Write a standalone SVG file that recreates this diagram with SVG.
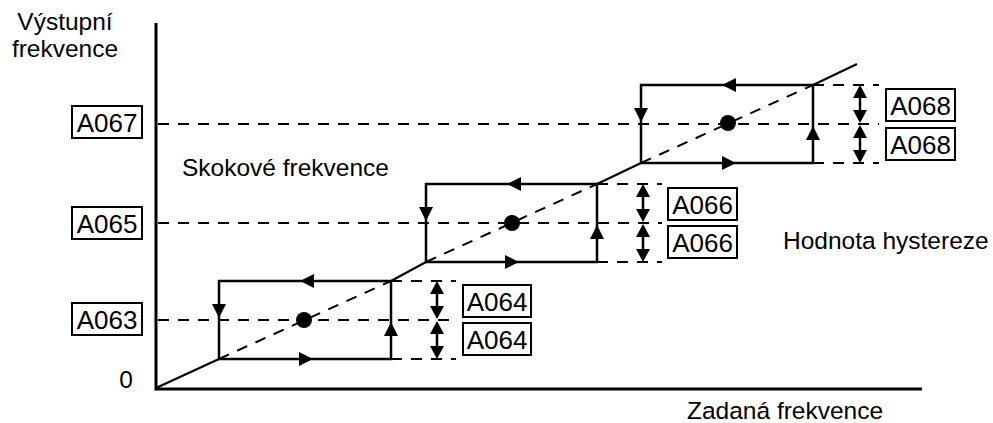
<svg xmlns="http://www.w3.org/2000/svg" xmlns:xlink="http://www.w3.org/1999/xlink" width="993" height="423" viewBox="0 0 993 423">
<style>
text{font-family:"Liberation Sans",Arial,sans-serif;font-size:24.5px;fill:#000}
.lbl{font-size:26px;text-anchor:middle}
.box{fill:#fff;stroke:#000;stroke-width:2}
.axis{stroke:#000;stroke-width:3;fill:none}
.loop{fill:none;stroke:#000;stroke-width:2.5}
.solid{stroke:#000;stroke-width:2.2;fill:none}
.dash{stroke:#000;stroke-width:2;fill:none;stroke-dasharray:11 9}
.dim{stroke:#000;stroke-width:2.5}
</style>
<defs>
<path id="ah" d="M0,0 L-14,-7 L-14,7 Z" fill="#000"/>
<path id="ah2" d="M0,0 L-13,-7 L-13,7 Z" fill="#000"/>
</defs>
<g id="axes">
<path class="axis" d="M156,23 V389 H922"/>
<text x="65" y="30" text-anchor="middle">Výstupní</text>
<text x="65" y="57" text-anchor="middle">frekvence</text>
<text x="133" y="388" text-anchor="end" font-size="25">0</text>
<text x="687" y="419">Zadaná frekvence</text>
</g>
<g id="texts">
<text x="182" y="176">Skokové frekvence</text>
<text x="783" y="249">Hodnota hystereze</text>
</g>
<g id="connectors">
<path class="solid" d="M156,388 L219,359 M391,281 L426,262 M597,184 L641,163 M813,85 L857,64"/>
<path class="dash" d="M219,359 L391,281 M426,262 L597,184 M641,163 L813,85"/>
<path class="dash" d="M158,320 H456 M391,281 H456 M391,359 H456"/>
<path class="dash" d="M158,223 H662 M597,184 H662 M597,262 H662"/>
<path class="dash" d="M158,124 H879 M813,85 H879 M813,163 H879"/>
</g>
<g id="loop1">
<rect class="loop" x="219" y="281" width="172" height="78"/>
<use xlink:href="#ah" transform="translate(300,281) rotate(180)"/>
<use xlink:href="#ah" transform="translate(313,359)"/>
<use xlink:href="#ah" transform="translate(219,318) rotate(90)"/>
<use xlink:href="#ah" transform="translate(391,322) rotate(-90)"/>
<circle cx="304" cy="320" r="8"/>
<path class="dim" d="M437,285 V316 M437,324 V355"/>
<use xlink:href="#ah2" transform="translate(437,281) rotate(-90)"/>
<use xlink:href="#ah2" transform="translate(437,319) rotate(90)"/>
<use xlink:href="#ah2" transform="translate(437,321) rotate(-90)"/>
<use xlink:href="#ah2" transform="translate(437,359) rotate(90)"/>
</g>
<g id="loop2">
<rect class="loop" x="426" y="184" width="171" height="78"/>
<use xlink:href="#ah" transform="translate(507,184) rotate(180)"/>
<use xlink:href="#ah" transform="translate(519,262)"/>
<use xlink:href="#ah" transform="translate(426,221) rotate(90)"/>
<use xlink:href="#ah" transform="translate(597,225) rotate(-90)"/>
<circle cx="512" cy="223" r="8"/>
<path class="dim" d="M643,188 V219 M643,227 V258"/>
<use xlink:href="#ah2" transform="translate(643,184) rotate(-90)"/>
<use xlink:href="#ah2" transform="translate(643,222) rotate(90)"/>
<use xlink:href="#ah2" transform="translate(643,224) rotate(-90)"/>
<use xlink:href="#ah2" transform="translate(643,262) rotate(90)"/>
</g>
<g id="loop3">
<rect class="loop" x="641" y="85" width="172" height="78"/>
<use xlink:href="#ah" transform="translate(722,85) rotate(180)"/>
<use xlink:href="#ah" transform="translate(736,163)"/>
<use xlink:href="#ah" transform="translate(641,122) rotate(90)"/>
<use xlink:href="#ah" transform="translate(813,126) rotate(-90)"/>
<circle cx="728" cy="123" r="8"/>
<path class="dim" d="M860,89 V120 M860,128 V159"/>
<use xlink:href="#ah2" transform="translate(860,85) rotate(-90)"/>
<use xlink:href="#ah2" transform="translate(860,123) rotate(90)"/>
<use xlink:href="#ah2" transform="translate(860,125) rotate(-90)"/>
<use xlink:href="#ah2" transform="translate(860,163) rotate(90)"/>
</g>
<g id="label-A067"><rect class="box" x="72" y="106" width="70" height="32"/><text class="lbl" x="107" y="132">A067</text></g>
<g id="label-A065"><rect class="box" x="72" y="207" width="70" height="32"/><text class="lbl" x="107" y="233">A065</text></g>
<g id="label-A063"><rect class="box" x="72" y="303" width="70" height="32"/><text class="lbl" x="107" y="329">A063</text></g>
<g id="label-A064a"><rect class="box" x="463" y="285" width="68" height="32"/><text class="lbl" x="497" y="311">A064</text></g>
<g id="label-A064b"><rect class="box" x="463" y="323" width="68" height="32"/><text class="lbl" x="497" y="349">A064</text></g>
<g id="label-A066a"><rect class="box" x="668" y="188" width="69" height="32"/><text class="lbl" x="702.5" y="214">A066</text></g>
<g id="label-A066b"><rect class="box" x="668" y="226" width="69" height="32"/><text class="lbl" x="702.5" y="252">A066</text></g>
<g id="label-A068a"><rect class="box" x="886" y="89" width="69" height="32"/><text class="lbl" x="920.5" y="115">A068</text></g>
<g id="label-A068b"><rect class="box" x="886" y="128" width="69" height="32"/><text class="lbl" x="920.5" y="154">A068</text></g>
</svg>
